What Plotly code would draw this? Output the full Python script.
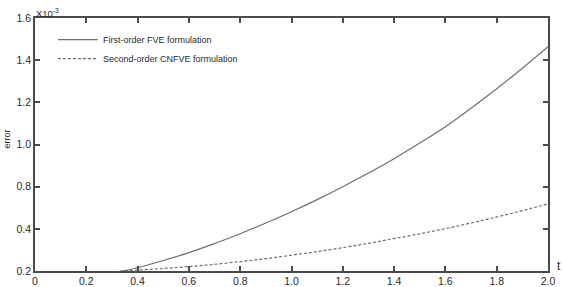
import plotly.graph_objects as go

# time values and errors (x 1e-3, in the chart's equally spaced tick-label scale)
t_first = [0.33, 0.35, 0.4, 0.5, 0.6, 0.7, 0.8, 0.9, 1.0, 1.1, 1.2, 1.3, 1.4, 1.5, 1.6, 1.7, 1.8, 1.9, 2.0]
err_first = [0.200, 0.2017, 0.2183, 0.2581, 0.3013, 0.3522, 0.4064, 0.4656, 0.5282, 0.5951, 0.6665,
             0.7418, 0.8214, 0.9078, 0.9985, 1.1009, 1.2088, 1.3223, 1.4413]

t_second = [0.35, 0.4, 0.5, 0.6, 0.7, 0.8, 0.9, 1.0, 1.1, 1.2, 1.3, 1.4, 1.5, 1.6, 1.7, 1.8, 1.9, 2.0]
err_second = [0.200, 0.2055, 0.2138, 0.2243, 0.2371, 0.2520, 0.2686, 0.2874, 0.3074, 0.3295, 0.3533,
              0.3793, 0.4059, 0.4346, 0.4656, 0.4988, 0.5342, 0.5719]

x_ticks = [0, 0.2, 0.4, 0.6, 0.8, 1.0, 1.2, 1.4, 1.6, 1.8, 2.0]
x_tick_labels = ["0", "0.2", "0.4", "0.6", "0.8", "1.0", "1.2", "1.4", "1.6", "1.8", "2.0"]
y_ticks = [0.2, 0.4333, 0.6667, 0.9, 1.1333, 1.3667, 1.6]
y_tick_labels = ["0.2", "0.4", "0.8", "1.0", "1.2", "1.4", "1.6"]

FONT = "Liberation Sans, Arial, sans-serif"
LINE_COL = "#6e6e6e"
AX_COL = "#4a4a4a"
TXT = "#2a2a2a"

fig = go.Figure()
fig.add_trace(go.Scatter(x=t_first, y=err_first, mode="lines", name="First-order FVE formulation",
                         line=dict(color=LINE_COL, width=1.2, shape="spline")))
fig.add_trace(go.Scatter(x=t_second, y=err_second, mode="lines", name="Second-order CNFVE formulation",
                         line=dict(color=LINE_COL, width=1.2, dash="3px,2px", shape="spline")))

fig.update_layout(
    width=563, height=287,
    margin=dict(l=35, r=15, t=18, b=16),
    plot_bgcolor="white", paper_bgcolor="white",
    font=dict(family=FONT, size=10.5, color=TXT),
    showlegend=True,
    legend=dict(x=0.035, y=0.972, xanchor="left", yanchor="top", bgcolor="rgba(0,0,0,0)",
                font=dict(family=FONT, size=9, color=TXT), itemwidth=40, tracegroupgap=0),
    xaxis=dict(range=[0, 2.0], tickvals=x_ticks, ticktext=x_tick_labels, ticks="inside", ticklen=5,
               tickcolor=AX_COL, tickwidth=1.5, showline=True, linecolor=AX_COL, linewidth=1.5,
               mirror="ticks", showgrid=False, zeroline=False, automargin=False,
               tickfont=dict(size=10.5)),
    yaxis=dict(range=[0.2, 1.6], tickvals=y_ticks, ticktext=y_tick_labels, ticks="inside", ticklen=5,
               tickcolor=AX_COL, tickwidth=1.5, showline=True, linecolor=AX_COL, linewidth=1.5,
               mirror="ticks", showgrid=False, zeroline=False, automargin=False,
               tickfont=dict(size=10.5)),
    annotations=[
        dict(text="t", xref="paper", yref="paper", x=1.0, y=0.0, xanchor="center", yanchor="middle",
             xshift=11, yshift=5, showarrow=False, font=dict(size=12, color=TXT)),
        dict(text="error", xref="paper", yref="paper", x=0, y=0.5, xanchor="center", yanchor="middle",
             xshift=-29, yshift=5, textangle=-90, showarrow=False, font=dict(size=9, color=TXT)),
        dict(text="X10<sup>-3</sup>", xref="paper", yref="paper", x=0, y=1.0, xanchor="left",
             yanchor="bottom", xshift=-1, yshift=-3, showarrow=False, font=dict(size=9.5, color=TXT)),
    ],
)

fig.write_html("out.html", config={"displayModeBar": False},
               post_script="document.body.style.margin='0';document.body.style.overflow='hidden';")
